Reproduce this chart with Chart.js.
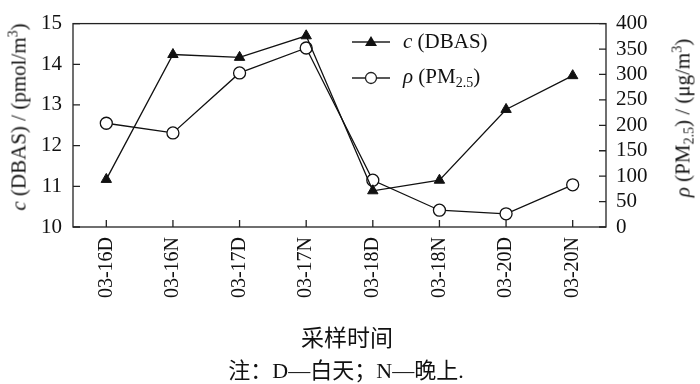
<!DOCTYPE html>
<html lang="zh">
<head>
  <meta charset="UTF-8">
  <title>DBAS 与 PM2.5</title>
  <script src="https://cdn.jsdelivr.net/npm/chart.js"></script>
  <style>
    body { margin: 0; background: #fff; }
    #wrap { position: relative; width: 700px; height: 384px; font-family: "Liberation Serif", serif; color: #111; }
    canvas { position: absolute; left: 0; top: 0; }
    .lbl { position: absolute; white-space: nowrap; font-size: 21px; line-height: 1; }
    .rot { transform: translate(-50%, -50%) rotate(-90deg); }
    .cjk { font-family: "Liberation Serif", "Noto Sans CJK SC", serif; font-size: 22px; transform: translateX(-50%); }
    sub { font-size: 14px; vertical-align: -4px; line-height: 0; }
    sup { font-size: 14px; vertical-align: 8px; line-height: 0; }
    i { font-style: italic; }
  </style>
</head>
<body>
<div id="wrap">
  <canvas id="chart" width="700" height="384"></canvas>
  <div class="lbl rot" style="left:19px; top:117px;"><i>c</i> (DBAS) / (pmol/m<sup>3</sup>)</div>
  <div class="lbl rot" style="left:683px; top:118px;"><i>ρ</i> (PM<sub>2.5</sub>) / (μg/m<sup>3</sup>)</div>
  <div class="lbl" style="left:403px; top:31px;"><i>c</i> (DBAS)</div>
  <div class="lbl" style="left:403px; top:66px;"><i>ρ</i> (PM<sub>2.5</sub>)</div>
  <div class="lbl cjk" style="left:347px; top:327px; font-size:23px;">采样时间</div>
  <div class="lbl cjk" style="left:346px; top:360px;">注：D—白天；N—晚上.</div>
</div>
<script>
  const categories = ["03-16D", "03-16N", "03-17D", "03-17N", "03-18D", "03-18N", "03-20D", "03-20N"];
  const dbas = [11.17, 14.24, 14.17, 14.70, 10.89, 11.15, 12.89, 13.72];
  const pm25 = [204, 185, 303, 352, 92, 33, 26, 83];

  // inward tick marks, frame and legend symbols
  const extras = {
    id: "extras",
    afterDraw(chart) {
      const ctx = chart.ctx;
      const a = chart.chartArea;
      ctx.save();
      ctx.strokeStyle = "#222";
      ctx.lineWidth = 1.3;
      ctx.strokeRect(a.left, a.top, a.right - a.left, a.bottom - a.top);
      ctx.beginPath();
      const yl = chart.scales.y, yr = chart.scales.y1, x = chart.scales.x;
      yl.ticks.forEach((t, i) => { const p = yl.getPixelForTick(i); ctx.moveTo(a.left, p); ctx.lineTo(a.left + 7, p); });
      yr.ticks.forEach((t, i) => { const p = yr.getPixelForTick(i); ctx.moveTo(a.right, p); ctx.lineTo(a.right - 7, p); });
      x.ticks.forEach((t, i) => { const p = x.getPixelForTick(i); ctx.moveTo(p, a.bottom); ctx.lineTo(p, a.bottom - 7); });
      // legend lines
      ctx.moveTo(352, 42); ctx.lineTo(390, 42);
      ctx.moveTo(352, 78); ctx.lineTo(390, 78);
      ctx.stroke();
      ctx.fillStyle = "#111";
      ctx.beginPath();
      ctx.moveTo(371, 36); ctx.lineTo(377, 46); ctx.lineTo(365, 46); ctx.closePath();
      ctx.fill();
      ctx.beginPath();
      ctx.arc(371, 78, 5.5, 0, Math.PI * 2);
      ctx.fillStyle = "#fff"; ctx.fill(); ctx.stroke();
      ctx.restore();
    }
  };

  const tickFont = { family: "Liberation Serif", size: 21 };

  new Chart(document.getElementById("chart"), {
    type: "line",
    data: {
      labels: categories,
      datasets: [
        {
          label: "c(DBAS)", data: dbas, yAxisID: "y",
          borderColor: "#111", borderWidth: 1.3, pointStyle: "triangle",
          pointRadius: 6, pointBackgroundColor: "#111", pointBorderColor: "#111", pointBorderWidth: 1
        },
        {
          label: "ρ(PM2.5)", data: pm25, yAxisID: "y1",
          borderColor: "#111", borderWidth: 1.3, pointStyle: "circle",
          pointRadius: 6, pointBackgroundColor: "#fff", pointBorderColor: "#111", pointBorderWidth: 1.3
        }
      ]
    },
    options: {
      responsive: false, animation: false,
      layout: { padding: { top: 9, left: 0, right: 0, bottom: 0 } },
      plugins: { legend: { display: false }, tooltip: { enabled: false } },
      scales: {
        x: {
          offset: true,
          grid: { display: false, drawTicks: false },
          border: { display: false },
          ticks: { color: "#111", font: { family: "Liberation Serif", size: 20 }, maxRotation: 90, minRotation: 90, padding: 10, autoSkip: false },
          afterFit(s) { s.height = 384 - 227; }
        },
        y: {
          position: "left", min: 10, max: 15,
          grid: { display: false, drawTicks: false },
          border: { display: false },
          ticks: { stepSize: 1, color: "#111", font: tickFont, padding: 11, autoSkip: false },
          afterFit(s) { s.width = 73; }
        },
        y1: {
          position: "right", min: 0, max: 400,
          grid: { display: false, drawTicks: false },
          border: { display: false },
          ticks: { stepSize: 50, color: "#111", font: tickFont, padding: 10, autoSkip: false },
          afterFit(s) { s.width = 94; }
        }
      }
    },
    plugins: [extras]
  });
</script>
</body>
</html>
